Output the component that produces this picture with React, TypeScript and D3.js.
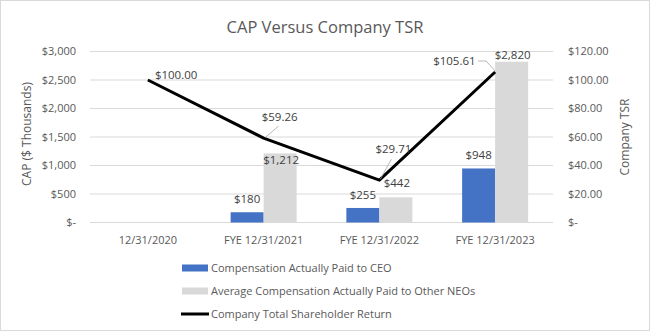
import React from "react";
import * as d3 from "d3";

const categories = ["12/31/2020", "FYE 12/31/2021", "FYE 12/31/2022", "FYE 12/31/2023"];
const ceoValues: (number | null)[] = [null, 180, 255, 948];
const neoValues: (number | null)[] = [null, 1212, 442, 2820];
const tsrValues = [100, 59.26, 29.71, 105.61];
const leftTicks = [0, 500, 1000, 1500, 2000, 2500, 3000];
const rightTicks = [0, 20, 40, 60, 80, 100, 120];
const legendLabels = [
  "Compensation Actually Paid to CEO",
  "Average Compensation Actually Paid to Other NEOs",
  "Company Total Shareholder Return",
];

const W = 650;
const H = 332;
const FONT = "'Open Sans', sans-serif";
const TXT = "#595959";
const LBL = "#404040";
const BLUE = "#4472C4";
const GREY = "#D9D9D9";

export default function App() {
  const plot = { left: 90, right: 553, top: 51.5, bottom: 222.5 };
  const x = d3.scaleBand<string>().domain(categories).range([plot.left, plot.right]);
  const yL = d3.scaleLinear().domain([0, 3000]).range([plot.bottom, plot.top]);
  const yR = d3.scaleLinear().domain([0, 120]).range([plot.bottom, plot.top]);
  const barW = 33;
  const cx = (c: string) => (x(c) as number) + x.bandwidth() / 2;

  const fmtL = (v: number) => (v === 0 ? "$-" : "$" + d3.format(",")(v));
  const fmtR = (v: number) => (v === 0 ? "$-" : "$" + d3.format(".2f")(v));

  const line = d3
    .line<number>()
    .x((_, i) => cx(categories[i]))
    .y((d) => yR(d));

  // data label placements (layout offsets relative to the point)
  const tsrLabelOff = [
    { dx: 7, dy: -5, anchor: "start", leader: null as null | number[][] },
    { dx: 16, dy: -21, anchor: "middle", leader: [[2, -1], [15, -12]] },
    { dx: 14, dy: -31, anchor: "middle", leader: [[1, -1], [12, -21]] },
    { dx: -62, dy: -11, anchor: "start", leader: [[0, -1], [-9, -11], [-17, -11]] },
  ];
  const neoLabelDy = [0, 7, -14, -7];
  const ceoLabelDy = [0, -13, -13, -13];

  return (
    <div style={{ position: "fixed", left: 0, top: 0 }}>
      <svg width={W} height={H} style={{ display: "block", fontFamily: FONT }}>
        <rect x={0.5} y={0.5} width={W - 1} height={H - 2} fill="#fff" stroke="#d9d9d9" />
        <text x={325} y={33} textAnchor="middle" fontSize={16.5} fill={TXT}>
          CAP Versus Company TSR
        </text>

        {leftTicks.map((t) => (
          <g key={"g" + t}>
            <line x1={plot.left} x2={plot.right} y1={yL(t)} y2={yL(t)} stroke="#d9d9d9" strokeWidth={1} />
            <text x={76} y={yL(t)} dy="0.35em" textAnchor="end" fontSize={11} fill={TXT}>
              {fmtL(t)}
            </text>
          </g>
        ))}
        {rightTicks.map((t) => (
          <text key={"r" + t} x={568} y={yR(t)} dy="0.35em" textAnchor="start" fontSize={11} fill={TXT}>
            {fmtR(t)}
          </text>
        ))}
        <text
          transform={`translate(27,${(plot.top + plot.bottom) / 2 - 3}) rotate(-90)`}
          textAnchor="middle"
          dy="0.35em"
          fontSize={12}
          fill={TXT}
        >
          CAP ($ Thousands)
        </text>
        <text
          transform={`translate(625,${(plot.top + plot.bottom) / 2}) rotate(-90)`}
          textAnchor="middle"
          dy="0.35em"
          fontSize={12}
          fill={TXT}
        >
          Company TSR
        </text>

        {categories.map((c) => (
          <text key={"x" + c} x={cx(c)} y={240} dy="0.35em" textAnchor="middle" fontSize={11} fill={TXT}>
            {c}
          </text>
        ))}

        {categories.map((c, i) => {
          const ceo = ceoValues[i];
          const neo = neoValues[i];
          const c0 = cx(c);
          return (
            <g key={"b" + c}>
              {ceo != null && (
                <>
                  <rect x={c0 - barW} y={yL(ceo)} width={barW} height={yL(0) - yL(ceo)} fill={BLUE} />
                  <text x={c0 - barW / 2} y={yL(ceo) + ceoLabelDy[i]} dy="0.35em" textAnchor="middle" fontSize={11.5} fill={LBL}>
                    {fmtL(ceo)}
                  </text>
                </>
              )}
              {neo != null && (
                <>
                  <rect x={c0} y={yL(neo)} width={barW} height={yL(0) - yL(neo)} fill={GREY} />
                  <text x={c0 + barW / 2 + 1} y={yL(neo) + neoLabelDy[i]} dy="0.35em" textAnchor="middle" fontSize={11.5} fill={LBL}>
                    {fmtL(neo)}
                  </text>
                </>
              )}
            </g>
          );
        })}

        <path d={line(tsrValues) || ""} fill="none" stroke="#000" strokeWidth={3} strokeLinejoin="round" />

        {tsrValues.map((v, i) => {
          const px = cx(categories[i]);
          const py = yR(v);
          const o = tsrLabelOff[i];
          return (
            <g key={"t" + i}>
              {o.leader && (
                <polyline
                  points={o.leader.map((p) => `${px + p[0]},${py + p[1]}`).join(" ")}
                  fill="none"
                  stroke="#a6a6a6"
                  strokeWidth={0.8}
                />
              )}
              <text x={px + o.dx} y={py + o.dy} dy="0.35em" textAnchor={o.anchor as any} fontSize={11.5} fill={LBL}>
                {fmtR(v)}
              </text>
            </g>
          );
        })}

        {legendLabels.map((l, i) => {
          const ly = 268 + i * 23;
          return (
            <g key={"l" + i}>
              {i < 2 ? (
                <rect x={182} y={ly - 3.5} width={26} height={7} fill={i === 0 ? BLUE : GREY} />
              ) : (
                <line x1={181} x2={209} y1={ly} y2={ly} stroke="#000" strokeWidth={3} />
              )}
              <text x={211} y={ly} dy="0.35em" fontSize={11} fill={TXT}>
                {l}
              </text>
            </g>
          );
        })}
      </svg>
    </div>
  );
}
